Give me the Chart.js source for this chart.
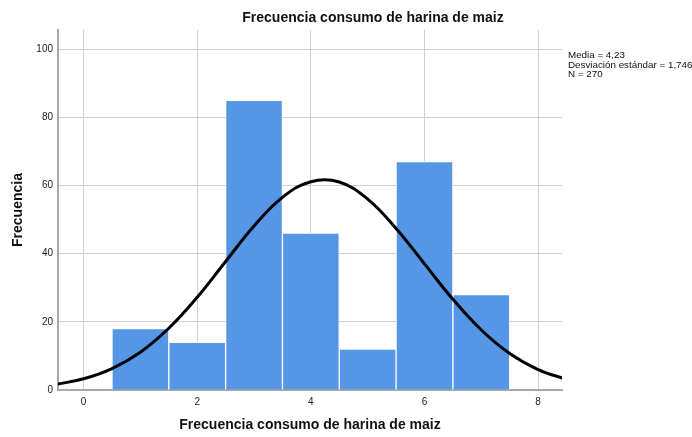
<!DOCTYPE html>
<html>
<head>
<meta charset="utf-8">
<script src="https://cdn.jsdelivr.net/npm/chart.js@4/dist/chart.umd.min.js"></script>
<style>
    body { margin: 0; background: #fff; }
    #wrap { width: 692px; height: 437px; }
</style>
</head>
<body>
<div id="wrap"><canvas id="grafico"></canvas></div>
<script>
// histogram bins (centres) and counts
const binCenters = [1, 2, 3, 4, 5, 6, 7];
const frequencies = [18, 14, 85, 46, 12, 67, 28];

// normal curve
const curveX = [-0.5, 0, 0.5, 1, 1.5, 2, 2.5, 3, 3.5, 4, 4.5, 5, 5.5, 6, 6.5, 7, 7.5, 8, 8.5];
const curveY = [1.6, 3.3, 6.3, 11.1, 18.1, 27.2, 37.7, 48.1, 56.5, 61.1, 61.0, 56.0, 47.4, 37.0, 26.6, 17.6, 10.7, 6.0, 3.1];

const statsLines = ['Media = 4,23', 'Desviación estándar = 1,746', 'N = 270'];
const chartTitle = 'Frecuencia consumo de harina de maiz';
const xTitle = 'Frecuencia consumo de harina de maiz';
const yTitle = 'Frecuencia';

Chart.defaults.font.family = "'Liberation Sans', Arial, sans-serif";
Chart.defaults.color = '#222';

const textoExtra = {
    id: 'textoExtra',
    afterDraw(chart) {
        const ctx = chart.ctx;
        ctx.save();
        ctx.fillStyle = '#111';
        ctx.textAlign = 'center';
        ctx.textBaseline = 'middle';
        ctx.font = "bold 14px 'Liberation Sans', Arial, sans-serif";
        ctx.fillText(chartTitle, 373, 18);

        ctx.textAlign = 'left';
        ctx.font = "9.8px 'Liberation Sans', Arial, sans-serif";
        statsLines.forEach((t, i) => ctx.fillText(t, 568, 55 + i * 9.8));
        ctx.restore();
    }
};

const ctx = document.getElementById('grafico').getContext('2d');
new Chart(ctx, {
    data: {
        datasets: [
            {
                type: 'line',
                data: curveX.map((x, i) => ({ x: x, y: curveY[i] })),
                borderColor: '#000',
                borderWidth: 3,
                pointRadius: 0,
                tension: 0.4,
                fill: false,
                order: 0
            },
            {
                type: 'bar',
                data: binCenters.map((x, i) => ({ x: x, y: frequencies[i] })),
                backgroundColor: '#5596e6',
                borderColor: '#ffffff',
                borderWidth: 1,
                barPercentage: 1,
                categoryPercentage: 1,
                order: 1
            }
        ]
    },
    options: {
        responsive: true,
        maintainAspectRatio: false,
        animation: false,
        layout: { padding: { top: 30, right: 130, left: 0, bottom: 0 } },
        plugins: {
            legend: { display: false },
            tooltip: { enabled: false }
        },
        scales: {
            x: {
                type: 'linear',
                min: -0.45,
                max: 8.42,
                offset: false,
                ticks: { stepSize: 2, includeBounds: false, padding: 6, font: { size: 10 }, maxRotation: 0 },
                grid: { color: '#d0d0d0', lineWidth: 1, drawTicks: false, offset: false },
                border: { color: '#a8a8a8', width: 2 },
                title: { display: true, text: xTitle, font: { size: 14, weight: 'bold' }, color: '#111', padding: { top: 4, bottom: 3 } },
                afterFit: (s) => { s.height = 47; }
            },
            y: {
                min: 0,
                max: 105.6,
                ticks: { stepSize: 20, includeBounds: false, padding: 5, font: { size: 10 } },
                grid: { color: '#d0d0d0', lineWidth: 1, drawTicks: false },
                border: { color: '#a8a8a8', width: 2 },
                title: { display: true, text: yTitle, font: { size: 14, weight: 'bold' }, color: '#111', padding: { top: 10, bottom: 0 } },
                afterFit: (s) => { s.width = 58; }
            }
        }
    },
    plugins: [textoExtra]
});
</script>
</body>
</html>
